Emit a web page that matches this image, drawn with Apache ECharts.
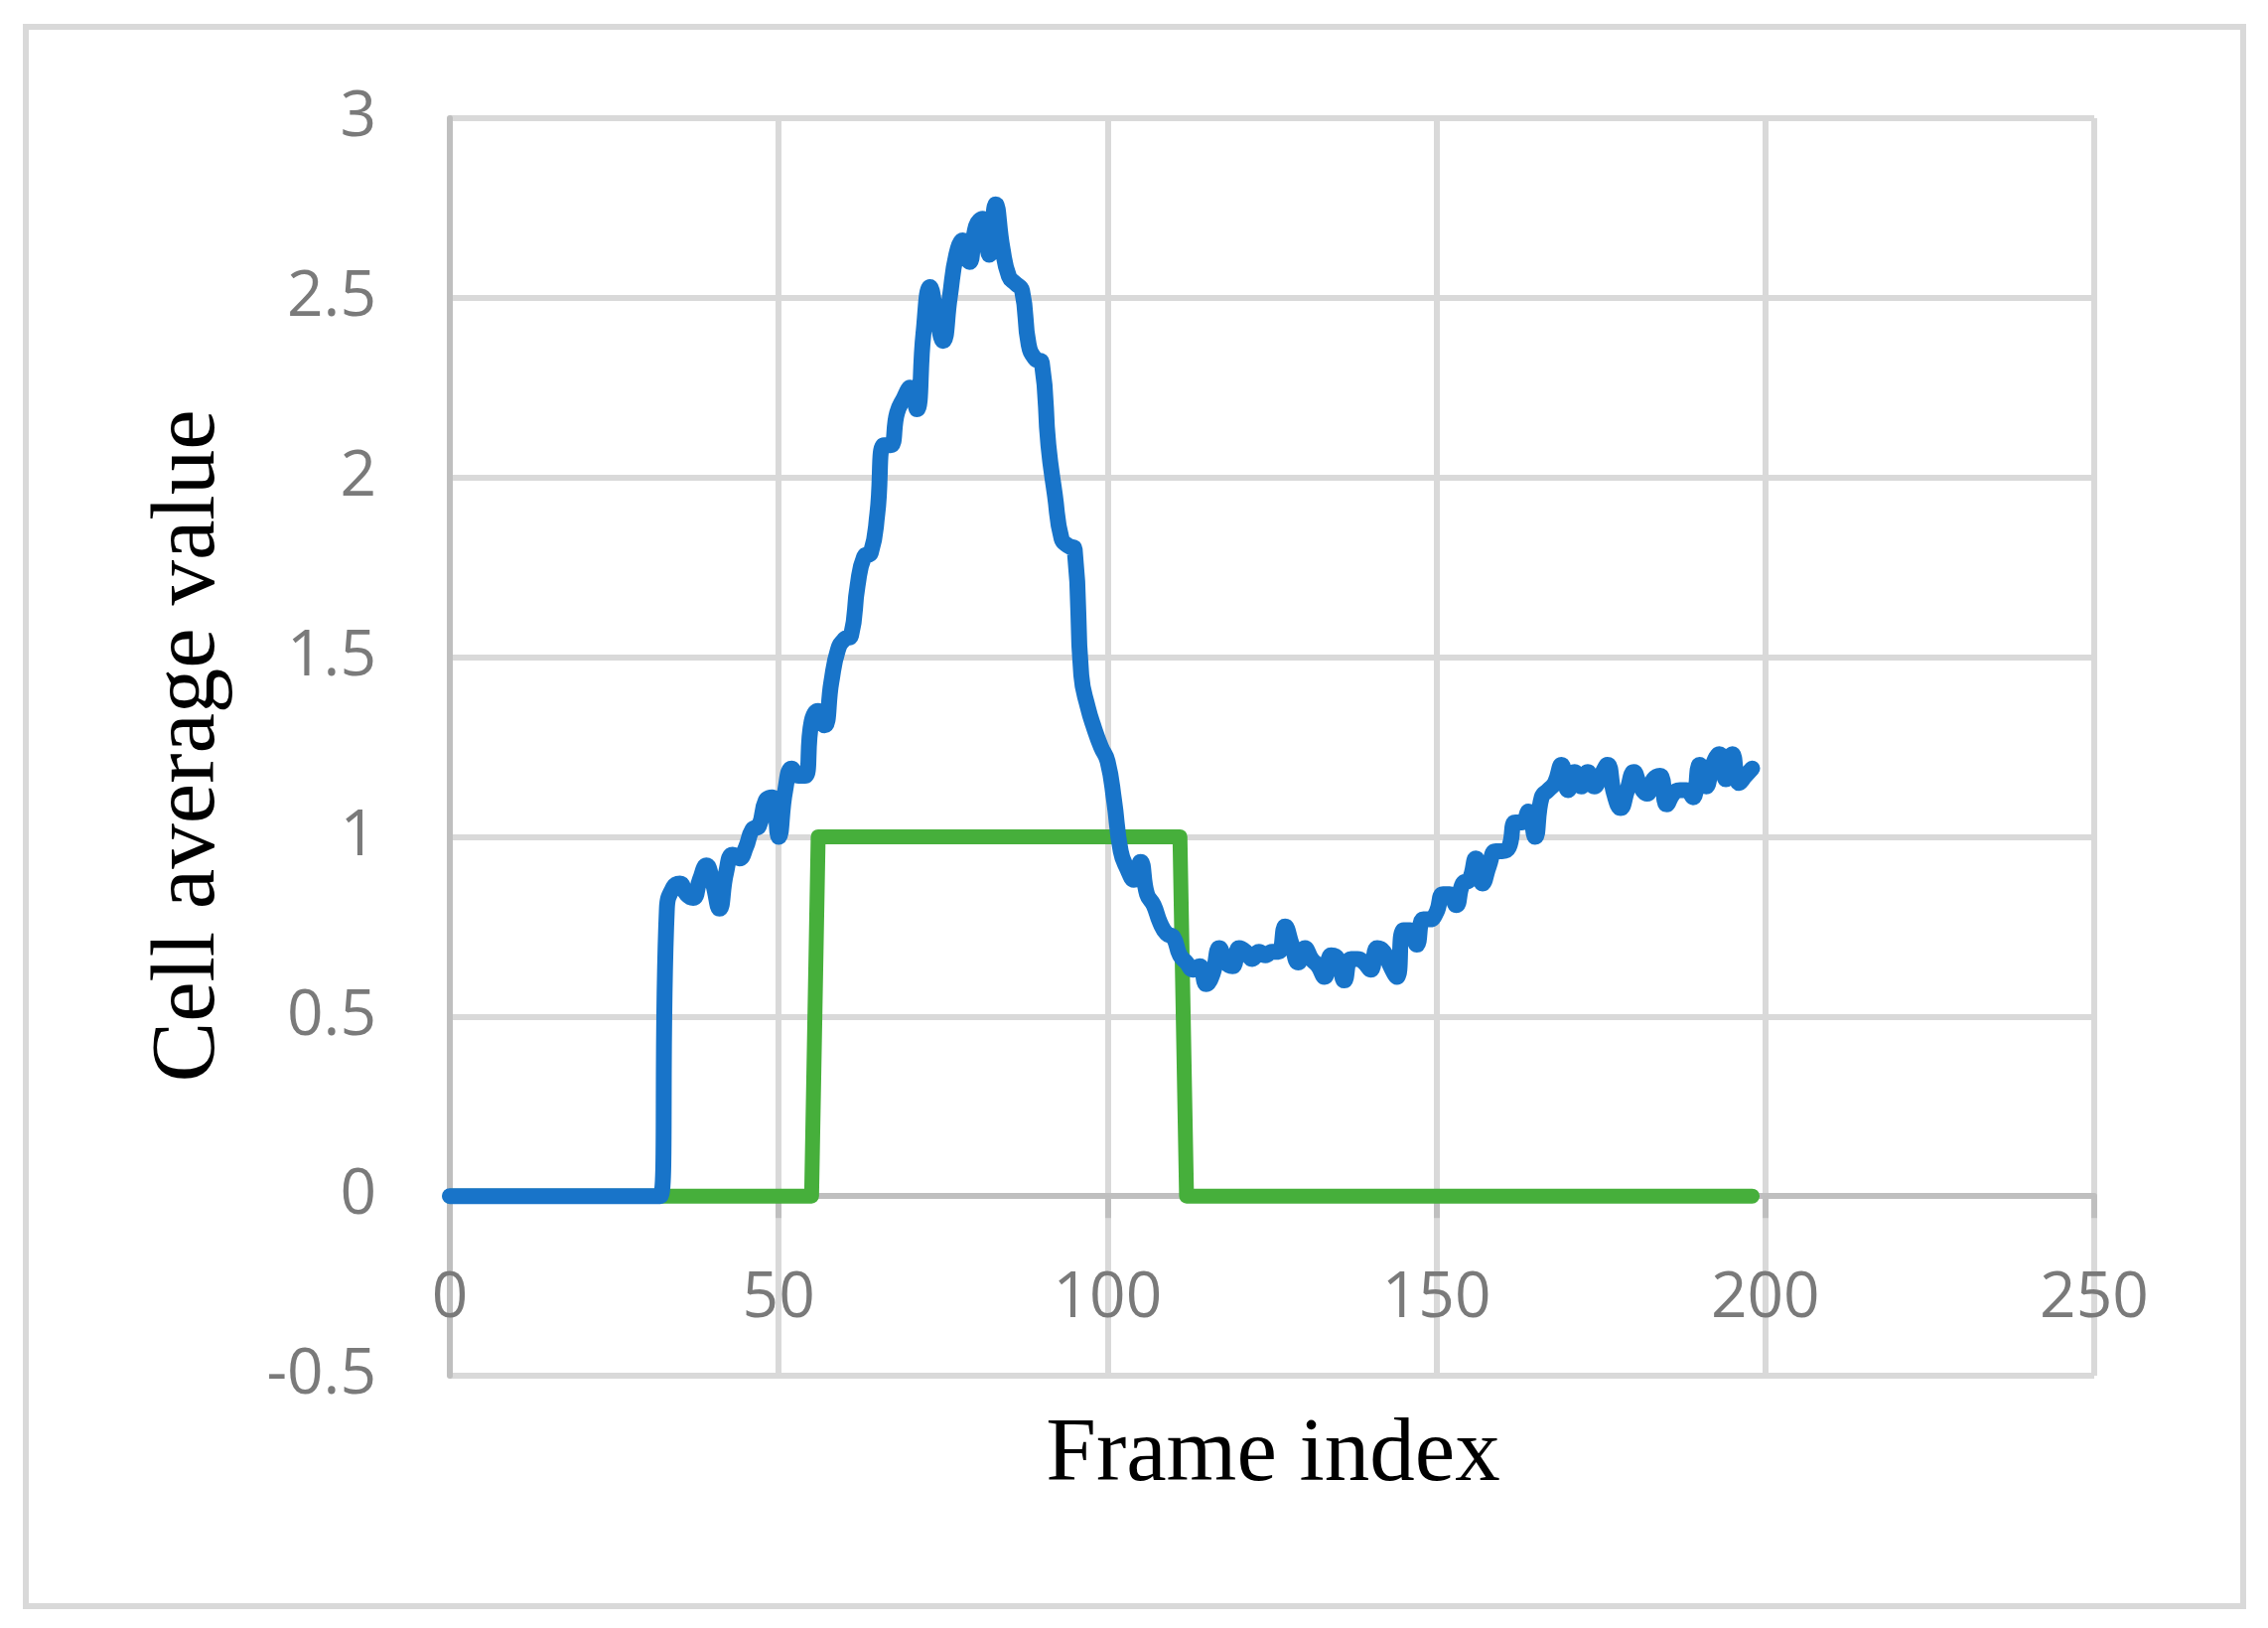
<!DOCTYPE html>
<html>
<head>
<meta charset="utf-8">
<script src="https://cdn.jsdelivr.net/npm/echarts@6/dist/echarts.min.js"></script>
<style>
html,body{margin:0;padding:0;background:#fff;}
#chart{width:2284px;height:1639px;}
</style>
</head>
<body>
<div id="chart"></div>
<script>
// ---- data ----
var xTicks = [0, 50, 100, 150, 200, 250];
var yTicks = [-0.5, 0, 0.5, 1, 1.5, 2, 2.5, 3];

// Cell average value per frame (frame index = array index, 0..198)
var blueValues = [
  0,0,0,0,0,0,0,0,0,0, 0,0,0,0,0,0,0,0,0,0, 0,0,0,0,0,0,0,0,0,0, 0,0,0,
  0.80,0.86,0.87,0.84,0.83,0.88,0.92,0.87,0.80,0.90,0.95,0.94,0.97,1.02,1.03,1.10,1.11,
  1.00,1.13,1.19,1.17,1.17,1.32,1.35,1.31,1.43,1.52,
  1.55,1.56,1.70,1.78,1.79,1.90,2.09,2.09,2.18,2.22,
  2.25,2.19,2.40,2.53,2.45,2.38,2.50,2.62,2.66,2.60,
  2.70,2.72,2.62,2.76,2.64,2.56,2.54,2.52,2.37,2.33,
  2.32,2.09,1.95,1.83,1.81,1.80,1.45,1.36,1.30,1.25,
  1.21,1.10,0.96,0.91,0.88,0.93,0.84,0.81,0.76,0.73,
  0.72,0.67,0.65,0.63,0.64,0.59,0.62,0.69,0.65,0.64,
  0.69,0.68,0.66,0.68,0.67,0.68,0.68,0.75,0.70,0.65,
  0.69,0.66,0.64,0.61,0.67,0.66,0.60,0.66,0.66,0.65,
  0.63,0.69,0.68,0.64,0.61,0.74,0.74,0.70,0.77,0.77,
  0.79,0.84,0.84,0.81,0.87,0.88,0.94,0.87,0.92,0.96,
  0.96,0.97,1.04,1.04,1.07,1.00,1.11,1.13,1.15,1.20,
  1.13,1.18,1.14,1.18,1.14,1.17,1.20,1.12,1.08,1.13,
  1.18,1.14,1.12,1.16,1.17,1.09,1.12,1.13,1.13,1.11,
  1.20,1.14,1.20,1.23,1.16,1.23,1.15,1.17,1.19
];

// Green step signal: change points
var greenFrames = [0, 55, 56, 111, 112, 198];
var greenValues = [0, 0, 1, 1, 0, 0];

// ---- build ----
var blueData = blueValues.map(function (v, i) { return [i, v]; });
var greenData = greenFrames.map(function (f, i) { return [f, greenValues[i]]; });

var GRID_TOP = 119, GRID_BOTTOM = 254, CH = 1639;
var plotH = CH - GRID_TOP - GRID_BOTTOM;
var yMin = yTicks[0], yMax = yTicks[yTicks.length - 1];
// shift the x axis (line, ticks, labels) up so it sits at value 0
var xAxisOffset = -plotH * (0 - yMin) / (yMax - yMin);

var chart = echarts.init(document.getElementById('chart'), null, {renderer: 'canvas'});
var labelFont = {color: '#7a7a7a', fontSize: 64, fontFamily: '"Open Sans", "Liberation Sans", sans-serif'};

chart.setOption({
  animation: false,
  backgroundColor: '#ffffff',
  grid: {left: 453, right: 175, top: GRID_TOP, bottom: GRID_BOTTOM, containLabel: false},
  xAxis: {
    type: 'value', min: xTicks[0], max: xTicks[xTicks.length - 1], interval: 50,
    offset: xAxisOffset,
    axisLine: {show: true, onZero: false, lineStyle: {color: '#bfbfbf', width: 6}},
    axisTick: {show: true, inside: false, length: 22, lineStyle: {color: '#bfbfbf', width: 6}},
    axisLabel: Object.assign({margin: 72}, labelFont),
    splitLine: {show: true, lineStyle: {color: '#d9d9d9', width: 6}}
  },
  yAxis: {
    type: 'value', min: yMin, max: yMax, interval: 0.5,
    axisLine: {show: true, onZero: false, lineStyle: {color: '#bfbfbf', width: 6}},
    axisTick: {show: false},
    axisLabel: Object.assign({margin: 74}, labelFont),
    splitLine: {show: true, lineStyle: {color: '#d9d9d9', width: 6}}
  },
  series: [
    {
      type: 'line', data: greenData, showSymbol: false, symbol: 'none',
      lineStyle: {color: '#46AF3B', width: 15, cap: 'round', join: 'round'},
      z: 2
    },
    {
      type: 'line', data: blueData, showSymbol: false, symbol: 'none', smooth: 0.5,
      lineStyle: {color: '#1874C9', width: 16, cap: 'round', join: 'round'},
      z: 3
    }
  ],
  graphic: [
    {
      type: 'rect', z: -10, silent: true,
      shape: {x: 26, y: 27, width: 2233, height: 1590},
      style: {fill: null, stroke: '#d9d9d9', lineWidth: 6}
    },
    {
      type: 'text', x: 1282, y: 1466, silent: true,
      style: {text: 'Frame index', fill: '#000', font: '91px "Liberation Serif", serif', align: 'center', verticalAlign: 'middle'}
    },
    {
      type: 'text', x: 191, y: 751, rotation: Math.PI / 2, silent: true,
      style: {text: 'Cell average value', fill: '#000', font: '91px "Liberation Serif", serif', align: 'center', verticalAlign: 'middle'}
    }
  ]
});
</script>
</body>
</html>
